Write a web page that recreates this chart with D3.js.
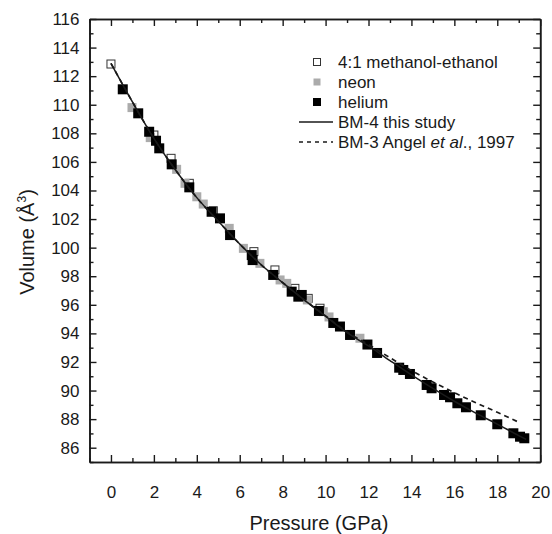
<!DOCTYPE html>
<html>
<head>
<meta charset="utf-8">
<script src="https://cdn.jsdelivr.net/npm/d3@7"></script>
<style>
  html, body { margin: 0; padding: 0; background: #fff; }
  svg { display: block; }
  text { font-family: "Liberation Sans", Arial, sans-serif; fill: #1a1a1a; }
</style>
</head>
<body>
<svg id="chart" width="552" height="534"></svg>
<script>
// ---- data ----
const methanolP = [0.00, 2.00, 2.80, 3.65, 4.77, 6.66, 7.64, 8.57, 9.19, 9.74];
const methanolV = [112.85, 107.88, 106.25, 104.50, 102.58, 99.72, 98.44, 97.15, 96.45, 95.76];

const neonP = [0.98, 1.83, 3.06, 3.45, 4.00, 4.30, 5.51, 6.17, 6.94, 7.88, 8.19, 9.15, 9.89, 10.16, 11.60];
const neonV = [109.80, 107.70, 105.48, 104.50, 103.56, 103.05, 101.35, 99.95, 98.90, 97.74, 97.50, 96.34, 95.52, 95.15, 93.66];

const heliumP = [0.55, 1.27, 1.78, 2.10, 2.25, 2.83, 3.65, 4.69, 5.08, 5.55, 6.56, 6.60, 7.56, 8.42, 8.73, 8.89,
                 9.69, 10.36, 10.67, 11.14, 11.95, 12.40, 13.43, 13.62, 13.93, 14.71, 14.94, 15.52, 15.80, 16.14,
                 16.54, 17.23, 18.00, 18.75, 19.06, 19.26];
const heliumV = [111.08, 109.40, 108.11, 107.48, 106.95, 105.83, 104.22, 102.51, 102.05, 100.88, 99.48, 99.13, 98.09, 96.92, 96.57, 96.69,
                 95.57, 94.73, 94.48, 93.89, 93.22, 92.63, 91.60, 91.44, 91.16, 90.39, 90.16, 89.69, 89.53, 89.11,
                 88.83, 88.27, 87.64, 87.01, 86.77, 86.66];

// BM-4 fit (this study)
const bm4P = [0, 1, 2, 3, 4, 5, 6, 7, 8, 9, 10, 11, 12, 13, 14, 15, 16, 17, 18, 19, 19.35];
const bm4V = [112.9, 110.2, 107.65, 105.45, 103.5, 101.85, 100.25, 98.8, 97.55, 96.35, 95.2, 94.05, 93.12, 92.1, 91.1, 90.15, 89.25, 88.42, 87.65, 86.85, 86.58];

// BM-3 Angel et al., 1997
const bm3P = [0, 1, 2, 3, 4, 5, 6, 7, 8, 9, 10, 11, 12, 13, 14, 15, 16, 17, 18, 19.06];
const bm3V = [112.9, 110.2, 107.65, 105.45, 103.5, 101.85, 100.25, 98.8, 97.55, 96.35, 95.22, 94.1, 93.22, 92.3, 91.4, 90.6, 89.85, 89.15, 88.48, 87.74];

const xMajorTicks = [0, 2, 4, 6, 8, 10, 12, 14, 16, 18, 20];
const xMinorTicks = [-1, 1, 3, 5, 7, 9, 11, 13, 15, 17, 19];
const yMajorTicks = [86, 88, 90, 92, 94, 96, 98, 100, 102, 104, 106, 108, 110, 112, 114, 116];
const yMinorTicks = [85, 87, 89, 91, 93, 95, 97, 99, 101, 103, 105, 107, 109, 111, 113, 115];

const legendLabels = ["4:1 methanol-ethanol", "neon", "helium", "BM-4 this study", "BM-3 Angel et al., 1997"];

// ---- layout ----
const L = 89.5, R = 540.2, T = 19, B = 462;
const svg = d3.select("#chart");
const x = d3.scaleLinear().domain([-1, 20]).range([L, R]);
const y = d3.scaleLinear().domain([85, 116]).range([B, T]);

const ink = "#1a1a1a";
const grey = "#ababab";

// ---- data marks ----
const pts = (P, V) => P.map((p, i) => [p, V[i]]);

const mS = 8, nS = 9, hS = 10;
svg.append("g").selectAll("rect").data(pts(methanolP, methanolV)).join("rect")
  .attr("x", d => x(d[0]) - mS / 2).attr("y", d => y(d[1]) - mS / 2)
  .attr("width", mS).attr("height", mS)
  .attr("fill", "#fff").attr("stroke", "#333").attr("stroke-width", 1);

svg.append("g").selectAll("rect").data(pts(neonP, neonV)).join("rect")
  .attr("x", d => x(d[0]) - nS / 2).attr("y", d => y(d[1]) - nS / 2)
  .attr("width", nS).attr("height", nS)
  .attr("fill", grey);

svg.append("g").selectAll("rect").data(pts(heliumP, heliumV)).join("rect")
  .attr("x", d => x(d[0]) - hS / 2).attr("y", d => y(d[1]) - hS / 2)
  .attr("width", hS).attr("height", hS)
  .attr("fill", "#000");

// ---- fit lines ----
const line = d3.line().x(d => x(d[0])).y(d => y(d[1])).curve(d3.curveMonotoneX);
svg.append("path").datum(pts(bm3P, bm3V)).attr("d", line)
  .attr("fill", "none").attr("stroke", ink).attr("stroke-width", 1.7).attr("stroke-dasharray", "5,4");
svg.append("path").datum(pts(bm4P, bm4V)).attr("d", line)
  .attr("fill", "none").attr("stroke", ink).attr("stroke-width", 1.5);

// ---- axes ----
const fs = 17;
function style(g) {
  g.selectAll("path.domain").attr("stroke", ink).attr("stroke-width", 1.6);
  g.selectAll(".tick line").attr("stroke", ink).attr("stroke-width", 1.4);
  g.selectAll("text").attr("font-size", fs).attr("fill", ink)
    .attr("font-family", "'Liberation Sans', Arial, sans-serif");
}
// bottom
svg.append("g").attr("transform", `translate(0,${B})`)
  .call(d3.axisBottom(x).tickValues(xMajorTicks).tickSizeInner(-7).tickSizeOuter(0).tickPadding(24).tickFormat(d3.format("d")))
  .call(style);
svg.append("g").attr("transform", `translate(0,${B})`)
  .call(d3.axisBottom(x).tickValues(xMinorTicks).tickSizeInner(-4).tickSizeOuter(0).tickFormat(""))
  .call(style);
// top
svg.append("g").attr("transform", `translate(0,${T})`)
  .call(d3.axisTop(x).tickValues(xMajorTicks).tickSizeInner(-7).tickSizeOuter(0).tickFormat(""))
  .call(style);
svg.append("g").attr("transform", `translate(0,${T})`)
  .call(d3.axisTop(x).tickValues(xMinorTicks).tickSizeInner(-4).tickSizeOuter(0).tickFormat(""))
  .call(style);
// left
svg.append("g").attr("transform", `translate(${L},0)`)
  .call(d3.axisLeft(y).tickValues(yMajorTicks).tickSizeInner(-7).tickSizeOuter(0).tickPadding(10).tickFormat(d3.format("d")))
  .call(style);
svg.append("g").attr("transform", `translate(${L},0)`)
  .call(d3.axisLeft(y).tickValues(yMinorTicks).tickSizeInner(-4).tickSizeOuter(0).tickFormat(""))
  .call(style);
// right
svg.append("g").attr("transform", `translate(${R},0)`)
  .call(d3.axisRight(y).tickValues(yMajorTicks).tickSizeInner(-7).tickSizeOuter(0).tickFormat(""))
  .call(style);
svg.append("g").attr("transform", `translate(${R},0)`)
  .call(d3.axisRight(y).tickValues(yMinorTicks).tickSizeInner(-4).tickSizeOuter(0).tickFormat(""))
  .call(style);

// ---- axis titles ----
svg.append("text").attr("x", (L + R) / 2 + 4).attr("y", 530)
  .attr("text-anchor", "middle").attr("font-size", 20).text("Pressure (GPa)");

const yt = svg.append("text").attr("transform", "translate(34,242) rotate(-90)")
  .attr("text-anchor", "middle").attr("font-size", 20);
yt.append("tspan").text("Volume (Å");
yt.append("tspan").attr("font-size", 12).attr("dy", -8).text("3");
yt.append("tspan").attr("dy", 8).text(")");

// ---- legend ----
const lg = svg.append("g");
const rowY = [62, 82, 102, 122, 142];
const tx = 338, mx = 317;
lg.append("rect").attr("x", mx - 3.5).attr("y", rowY[0] - 3.5).attr("width", 7).attr("height", 7)
  .attr("fill", "#fff").attr("stroke", "#333").attr("stroke-width", 1);
lg.append("rect").attr("x", mx - 3.5).attr("y", rowY[1] - 3.5).attr("width", 7).attr("height", 7).attr("fill", grey);
lg.append("rect").attr("x", mx - 4).attr("y", rowY[2] - 4).attr("width", 8).attr("height", 8).attr("fill", "#000");
lg.append("line").attr("x1", 299).attr("x2", 333).attr("y1", rowY[3]).attr("y2", rowY[3])
  .attr("stroke", ink).attr("stroke-width", 1.4);
lg.append("line").attr("x1", 299).attr("x2", 333).attr("y1", rowY[4]).attr("y2", rowY[4])
  .attr("stroke", ink).attr("stroke-width", 1.4).attr("stroke-dasharray", "4,4");

legendLabels.forEach((lab, i) => {
  const t = lg.append("text").attr("x", tx).attr("y", rowY[i]).attr("dy", "0.35em").attr("font-size", fs);
  if (i === 4) {
    t.append("tspan").text("BM-3 Angel ");
    t.append("tspan").attr("font-style", "italic").text("et al");
    t.append("tspan").text("., 1997");
  } else {
    t.text(lab);
  }
});
</script>
</body>
</html>
